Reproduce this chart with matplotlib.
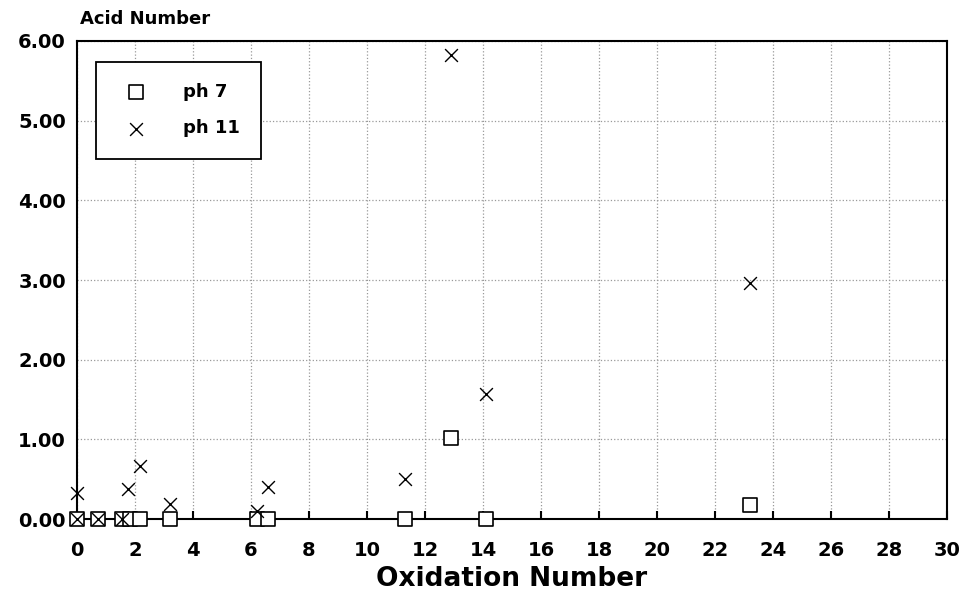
import numpy as np
import matplotlib.pyplot as plt

plt.rcParams['font.family'] = ['DejaVu Sans']
plt.rcParams['font.weight'] = 'bold'

# ph 7 series
ph7_x = [0, 0.72, 1.55, 1.83, 2.17, 3.2, 6.2, 6.59, 11.3, 12.9, 14.1, 23.2]
ph7_y = [0, 0, 0, 0, 0, 0, 0, 0, 0, 1.02, 0, 0.18]

# ph 11 series
ph11_x = [0, 0, 0.72, 1.55, 1.75, 2.17, 3.2, 6.2, 6.59, 11.3, 12.9, 14.1, 23.2]
ph11_y = [0, 0.33, 0, 0, 0.38, 0.66, 0.19, 0.1, 0.4, 0.5, 5.82, 1.57, 2.96]

xticks = np.arange(0, 31, 2)
yticks = np.arange(0, 7, 1)

fig = plt.figure(figsize=(9.68, 6.01), dpi=100)
ax = fig.add_axes([0.0795, 0.1364, 0.8988, 0.7954])

ax.scatter(ph7_x, ph7_y, marker='s', s=95, facecolors='white', edgecolors='black',
           linewidths=1.2, label='ph 7', zorder=3, clip_on=False)
ax.scatter(ph11_x, ph11_y, marker='x', s=85, color='black', linewidths=1.0,
           label='ph 11', zorder=4, clip_on=False)

ax.set_xlim(0, 30)
ax.set_ylim(0, 6)
ax.set_xticks(xticks)
ax.set_yticks(yticks)
ax.set_yticklabels([f'{v:.2f}' for v in yticks])
ax.tick_params(axis='x', direction='in', length=6, width=1.5, labelsize=14, pad=16)
ax.tick_params(axis='y', direction='in', length=0, labelsize=14, pad=8)
for lbl in ax.get_xticklabels() + ax.get_yticklabels():
    lbl.set_fontweight('bold')

ax.grid(True, linestyle=':', color='#999999', linewidth=0.9)
ax.set_axisbelow(True)
for sp in ax.spines.values():
    sp.set_linewidth(1.5)

ax.set_xlabel('Oxidation Number', fontsize=19, fontweight='bold', labelpad=4)
fig.text(0.083, 0.968, 'Acid Number', fontsize=13, fontweight='bold', ha='left', va='center')

leg = ax.legend(loc='upper left', bbox_to_anchor=(0.022, 0.957), fancybox=False,
                edgecolor='black', framealpha=1, fontsize=13, borderpad=1.2,
                labelspacing=1.0, handletextpad=1.6, borderaxespad=0)
leg.get_frame().set_linewidth(1.3)
for t in leg.get_texts():
    t.set_fontweight('bold')

fig.savefig('out.png', dpi=100)
